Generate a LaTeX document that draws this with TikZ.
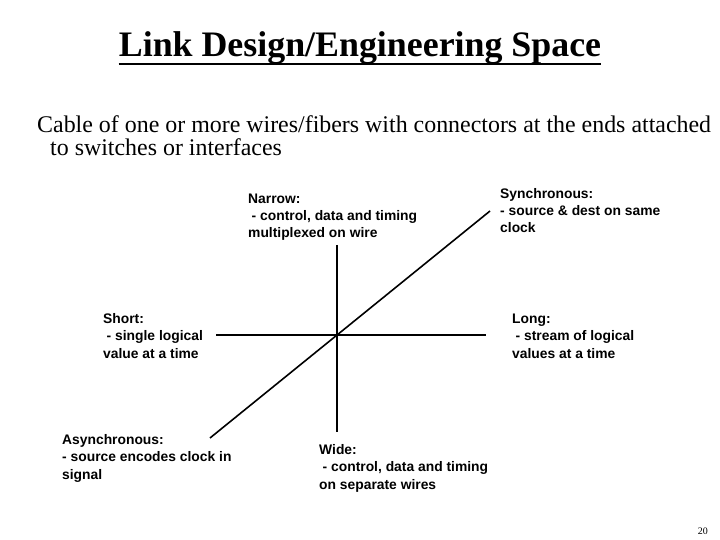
\documentclass[tikz,border=0pt]{standalone}
\usepackage{fontspec}
\setmainfont{Liberation Serif}
\newfontfamily\arialfont{Liberation Sans}
\tikzset{
  lbl/.style={anchor=base west, inner sep=0pt, align=left,
    font=\arialfont\bfseries\fontsize{13.9}{17.5}\selectfont},
  axis/.style={line width=1.6bp, black},
}
\begin{document}
\begin{tikzpicture}[x=1bp,y=-1bp]
\useasboundingbox (0,0) rectangle (720,540);
% title
\node[anchor=base, inner sep=0pt, font=\bfseries\fontsize{36}{40}\selectfont] (title) at (360,57) {Link Design/Engineering Space};
\draw[line width=2.5bp] ([yshift=-7bp]title.base west) -- ([yshift=-7bp]title.base east);
% subtitle (base anchor = last line)
\node[anchor=base west, inner sep=0pt, align=left, font=\fontsize{24}{24}\selectfont] (sub) at (37,156)
  {Cable of one or more wires/fibers with connectors at the ends attached\\\hspace*{13bp}to switches or interfaces};
% axes
\coordinate (L) at (216,335);
\coordinate (R) at (486,335);
\coordinate (T) at (337,245);
\coordinate (B) at (337,432);
\coordinate (SW) at (210,438);
\coordinate (NE) at (490,211);
\draw[axis] (L) -- (R);
\draw[axis] (T) -- (B);
\draw[axis] (SW) -- (NE);
% labels (base anchor = last line baseline)
\node[lbl] (narrow) at (248,238) {Narrow:\\\hspace*{3.5bp}- control, data and timing\\multiplexed on wire};
\node[lbl] (sync) at (500,233) {Synchronous:\\- source \& dest on same\\clock};
\node[lbl] (short) at (103,358) {Short:\\\hspace*{3.5bp}- single logical\\value at a time};
\node[lbl] (long) at (512,358) {Long:\\\hspace*{3.5bp}- stream of logical\\values at a time};
\node[lbl] (async) at (62,479) {Asynchronous:\\- source encodes clock in\\signal};
\node[lbl] (wide) at (319,489) {Wide:\\\hspace*{3.5bp}- control, data and timing\\on separate wires};
% page number
\node[anchor=base east, inner sep=0pt, font=\fontsize{10}{12}\selectfont] (page) at (708,534) {20};
\end{tikzpicture}
\end{document}
